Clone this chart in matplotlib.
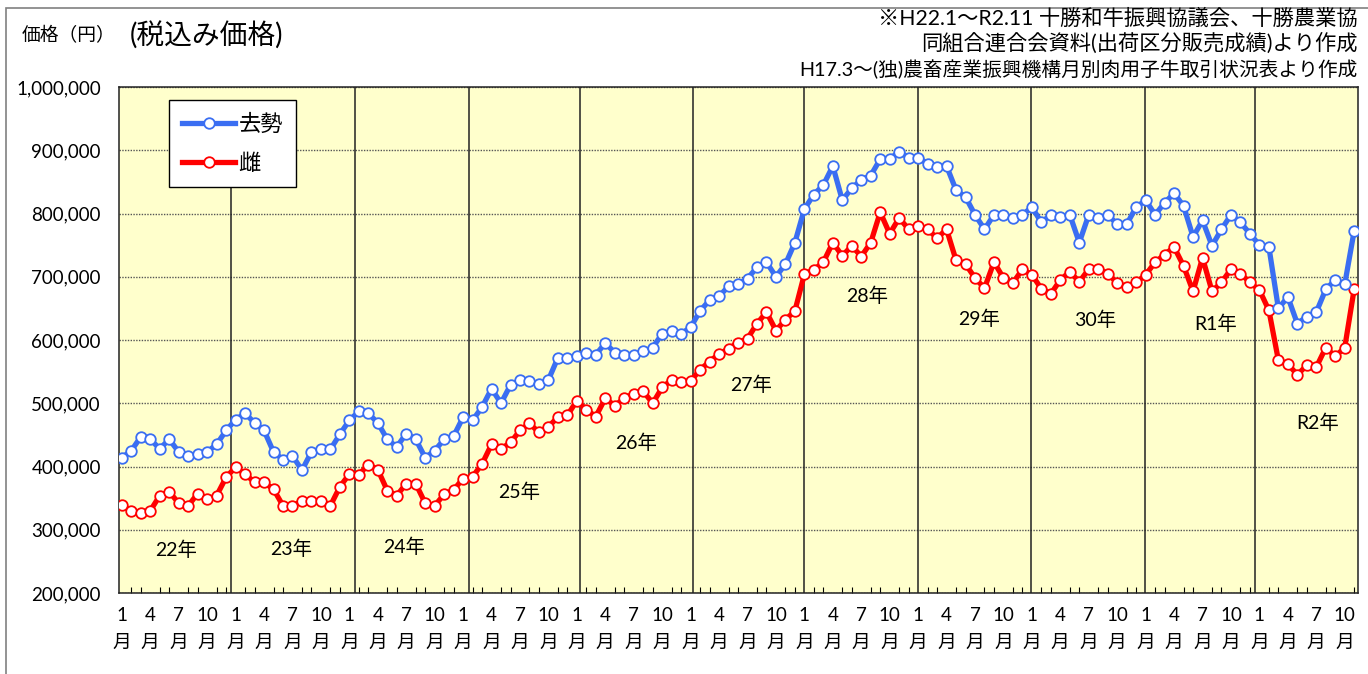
import matplotlib
matplotlib.use("Agg")
import matplotlib.pyplot as plt
from matplotlib.ticker import FuncFormatter, MultipleLocator
from matplotlib.lines import Line2D

plt.rcParams['font.family'] = ['Lato', 'Noto Sans CJK JP', 'DejaVu Sans']

# 月別平均価格 (千円) H22.1 ～ R2.11
kyosei = [
    414, 425, 447, 443, 428, 443, 423, 416, 419, 423, 435, 457,   # H22
    474, 484, 469, 457, 423, 411, 417, 394, 423, 428, 427, 451,   # H23
    473, 487, 484, 469, 443, 431, 452, 443, 414, 425, 443, 448,   # H24
    478, 473, 494, 523, 500, 529, 536, 535, 530, 537, 572, 572,   # H25
    574, 580, 577, 595, 580, 577, 577, 582, 588, 610, 614, 610,   # H26
    620, 646, 663, 669, 685, 689, 697, 715, 723, 700, 720, 754,   # H27
    807, 830, 845, 875, 821, 840, 853, 860, 886, 886, 898, 888,   # H28
    888, 879, 874, 875, 837, 826, 798, 775, 798, 798, 793, 798,   # H29
    810, 786, 798, 795, 798, 754, 798, 793, 798, 783, 783, 810,   # H30
    821, 798, 817, 832, 812, 763, 789, 749, 775, 798, 786, 768,   # R1
    750, 747, 650, 668, 626, 637, 644, 680, 695, 688, 773,        # R2
]
mesu = [
    339, 330, 326, 330, 354, 360, 342, 338, 357, 348, 354, 383,
    399, 388, 375, 375, 364, 338, 338, 345, 345, 345, 338, 368,
    388, 387, 403, 395, 362, 354, 373, 373, 342, 338, 356, 363,
    381, 384, 404, 435, 428, 438, 457, 468, 454, 463, 478, 481,
    504, 490, 479, 508, 496, 508, 515, 519, 500, 525, 537, 533,
    535, 553, 566, 578, 586, 596, 602, 626, 644, 615, 632, 646,
    704, 711, 723, 754, 733, 749, 732, 754, 802, 768, 793, 775,
    781, 775, 761, 775, 726, 720, 698, 682, 723, 698, 690, 712,
    703, 681, 673, 695, 708, 692, 712, 712, 705, 690, 684, 691,
    703, 723, 735, 747, 717, 677, 730, 677, 691, 712, 705, 691,
    679, 647, 568, 562, 545, 560, 557, 588, 574, 588, 681,
]
kyosei = [v * 1000 for v in kyosei]
mesu = [v * 1000 for v in mesu]
months = list(range(len(kyosei)))

tick_months = ["1", "4", "7", "10"]
year_names = ["22年", "23年", "24年", "25年", "26年", "27年",
              "28年", "29年", "30年", "R1年", "R2年"]

# 年ラベルの位置 (月番号, 円)
year_label_x = [5.7, 17.9, 29.8, 41.9, 54.2, 66.4, 78.6, 90.4, 102.7, 115.4, 126.1]
year_label_y = [268000, 270700, 272300, 359700, 437600, 528900,
                669600, 634300, 632700, 625300, 468800]
# 年の区切り線 (手書き風に少しずれている)
year_line_x = [11.5, 24.6, 36.6, 48.3, 60.3, 72.0, 84.0, 95.9, 107.9, 119.5]

blue = '#3a6ef2'
red = '#ff0000'

fig = plt.figure(figsize=(13.68, 6.74), dpi=100)
ax = fig.add_axes([119 / 1368, 1 - 593 / 674, (1358 - 119) / 1368, (593 - 87) / 674])
ax.set_facecolor('#ffffcc')

# 外枠
fig.patches.append(plt.Rectangle((6 / 1368, -0.1), 1.2, 1 - 8 / 674 + 0.1,
                                 transform=fig.transFigure, fill=False,
                                 edgecolor='#808080', linewidth=1.2))

ax.set_xlim(-0.3, 130.4)
ax.set_ylim(200000, 1000000)

ax.yaxis.set_major_locator(MultipleLocator(100000))
ax.yaxis.set_major_formatter(FuncFormatter(lambda v, p: f"{int(v):,}"))
ax.grid(axis='y', color='#555555', linestyle=(0, (1, 1)), linewidth=1.0)
ax.set_axisbelow(True)

for i, xv in enumerate(year_line_x):
    top = 0.84e6 if i == 0 else 1e6
    ax.plot([xv, xv], [200000, top], color='#222222', linewidth=1.1, zorder=1.5)

style = dict(linewidth=3.8, marker='o', markersize=7.6, markerfacecolor='white',
             markeredgewidth=1.3, solid_joinstyle='round', zorder=3)
ax.plot(months, mesu, color=red, markeredgecolor=red, **style)
ax.plot(months, kyosei, color=blue, markeredgecolor=blue, **style)

for name, xv, yv in zip(year_names, year_label_x, year_label_y):
    ax.text(xv, yv, name, fontsize=14, ha='center', va='center', zorder=4)

ax.set_xticks(range(0, len(months), 3))
ax.set_xticklabels([f"{tick_months[k % 4]}\n月" for k in range(len(range(0, len(months), 3)))],
                   fontsize=13.5, linespacing=1.75)
ax.set_xticks(months, minor=True)
ax.tick_params(axis='x', which='major', length=0, pad=10)
ax.tick_params(axis='x', which='minor', direction='in', length=4, width=0.8)
ax.tick_params(axis='y', length=0, pad=13, labelsize=13.5)

for s in ax.spines.values():
    s.set_color('#222222')
    s.set_linewidth(1.1)

handles = [
    Line2D([], [], color=blue, markeredgecolor=blue, **{k: v for k, v in style.items() if k != 'zorder'}),
    Line2D([], [], color=red, markeredgecolor=red, **{k: v for k, v in style.items() if k != 'zorder'}),
]
leg = ax.legend(handles, ["去勢", "雌"], loc='upper left', bbox_to_anchor=(0.040, 0.974),
                borderaxespad=0, fontsize=16, frameon=True, fancybox=False,
                edgecolor='black', framealpha=1, handlelength=2.4, handletextpad=0.15,
                labelspacing=0.85, borderpad=0.6)
leg.get_frame().set_linewidth(1.0)
leg.set_zorder(5)

fig.text(22 / 1368, 1 - 35 / 674, "価格（円）", fontsize=13.5, va='center')
fig.text(130 / 1368, 1 - 36 / 674, "(税込み価格)", fontsize=20, va='center')
fig.text(1358 / 1368, 1 - 19 / 674, "※H22.1～R2.11 十勝和牛振興協議会、十勝農業協",
         fontsize=15.3, ha='right', va='center')
fig.text(1358 / 1368, 1 - 43 / 674, "同組合連合会資料(出荷区分販売成績)より作成",
         fontsize=15.3, ha='right', va='center')
fig.text(1358 / 1368, 1 - 69 / 674, "H17.3～(独)農畜産業振興機構月別肉用子牛取引状況表より作成",
         fontsize=14.2, ha='right', va='center')

fig.savefig("out.png", dpi=100)
